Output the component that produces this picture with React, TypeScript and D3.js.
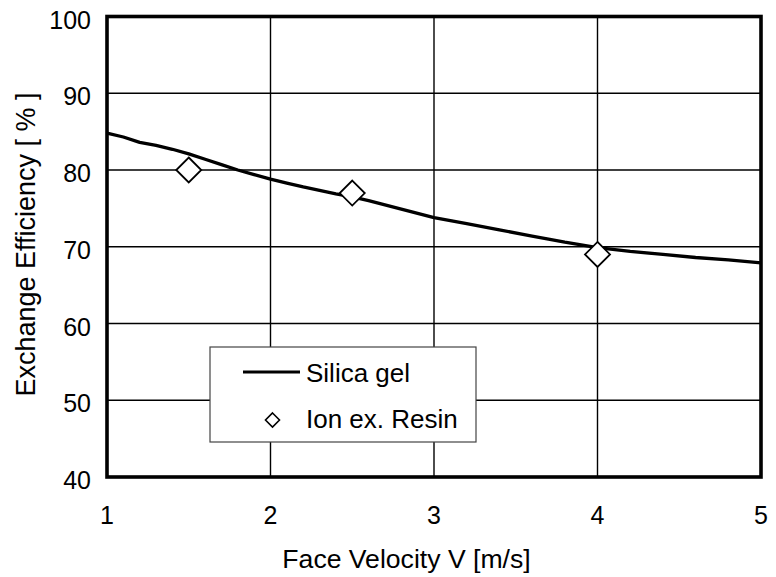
import React from "react";
import * as d3 from "d3";

const silicaX = [1.0, 1.1, 1.2, 1.3, 1.4, 1.5, 1.6, 1.7, 1.8, 1.9, 2.0, 2.1, 2.2, 2.4, 2.5, 2.6, 2.8, 3.0, 3.2, 3.4, 3.6, 3.8, 4.0, 4.2, 4.4, 4.6, 4.8, 5.0];
const silicaY = [84.8, 84.3, 83.6, 83.2, 82.7, 82.1, 81.4, 80.7, 80.0, 79.4, 78.8, 78.3, 77.8, 76.9, 76.5, 76.0, 74.9, 73.8, 73.0, 72.2, 71.4, 70.6, 69.9, 69.4, 69.0, 68.6, 68.3, 67.9];
const resinX = [1.5, 2.5, 4.0];
const resinY = [80, 77, 69];
const xTicks = [1, 2, 3, 4, 5];
const yTicks = [40, 50, 60, 70, 80, 90, 100];
const seriesNames = ["Silica gel", "Ion ex. Resin"];
const xTitle = "Face Velocity V [m/s]";
const yTitle = "Exchange Efficiency [ % ]";

const W = 776;
const H = 577;
const L = 107, R = 761, T = 16.5, B = 477;
const FONT = "'Liberation Sans', Arial, sans-serif";

export default function App() {
  const x = d3.scaleLinear().domain([1, 5]).range([L, R]);
  const y = d3.scaleLinear().domain([40, 100]).range([B, T]);
  const line = d3
    .line<number>()
    .x((_, i) => x(silicaX[i]))
    .y((d) => y(d))
    .curve(d3.curveLinear);
  const diamond = (cx: number, cy: number, r: number) =>
    `M${cx},${cy - r}L${cx + r},${cy}L${cx},${cy + r}L${cx - r},${cy}Z`;

  return (
    <svg
      width={W}
      height={H}
      style={{ position: "absolute", left: 0, top: 0, background: "#fff" }}
      fontFamily={FONT}
    >
      <rect x={0} y={0} width={W} height={H} fill="#fff" />
      {/* grid */}
      {xTicks.slice(1, -1).map((t) => (
        <line key={"gx" + t} x1={x(t)} x2={x(t)} y1={T} y2={B} stroke="#000" strokeWidth={1.4} />
      ))}
      {yTicks.slice(1, -1).map((t) => (
        <line key={"gy" + t} x1={L} x2={R} y1={y(t)} y2={y(t)} stroke="#000" strokeWidth={1.4} />
      ))}
      {/* legend box */}
      <rect x={210} y={347} width={266} height={95} fill="#fff" stroke="#444" strokeWidth={1.2} />
      <line x1={243} x2={300} y1={372} y2={372} stroke="#000" strokeWidth={3.2} />
      <text x={306} y={382} fontSize={26} fill="#000">{seriesNames[0]}</text>
      <path d={diamond(272.5, 420, 7)} fill="#fff" stroke="#000" strokeWidth={1.6} />
      <text x={306} y={428} fontSize={26} fill="#000">{seriesNames[1]}</text>
      {/* series */}
      <path d={line(silicaY) || ""} fill="none" stroke="#000" strokeWidth={3.3} strokeLinejoin="round" />
      {resinX.map((v, i) => (
        <path key={"m" + i} d={diamond(x(v), y(resinY[i]), 12.5)} fill="#fff" stroke="#000" strokeWidth={1.8} />
      ))}
      {/* frame */}
      <rect x={L} y={T} width={R - L} height={B - T} fill="none" stroke="#000" strokeWidth={3.6} />
      {/* tick labels */}
      {yTicks.map((t) => (
        <text key={"ty" + t} x={91} y={y(t) + 12} fontSize={25} textAnchor="end" fill="#000">{t}</text>
      ))}
      {xTicks.map((t) => (
        <text key={"tx" + t} x={x(t)} y={524} fontSize={25} textAnchor="middle" fill="#000">{t}</text>
      ))}
      <text x={406.5} y={568} fontSize={26.6} textAnchor="middle" fill="#000">{xTitle}</text>
      <text
        transform={`translate(34.5,244.5) rotate(-90)`}
        fontSize={27}
        textAnchor="middle"
        fill="#000"
      >
        {yTitle}
      </text>
    </svg>
  );
}
